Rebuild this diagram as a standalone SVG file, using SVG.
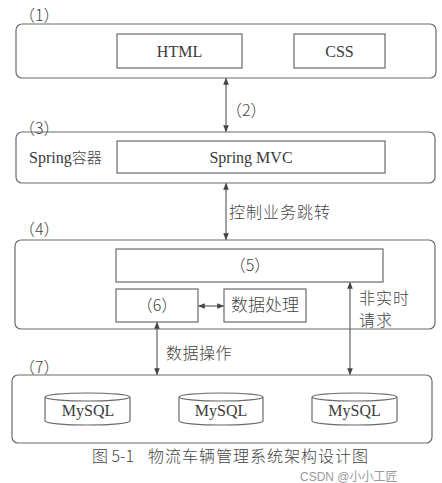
<svg xmlns="http://www.w3.org/2000/svg" width="442" height="483" viewBox="0 0 442 483">
<style>
.frame{fill:none;stroke:#6a6a6a;stroke-width:1.2}
.box{fill:#fff;stroke:#6a6a6a;stroke-width:1.2}
.t{font-family:"Liberation Serif","Noto Sans CJK SC",serif;font-size:16px;fill:#3a3a3a}
.c{font-family:"Noto Sans CJK SC","Liberation Serif",serif;font-size:16px;font-weight:300;fill:#444}
.line{stroke:#555;stroke-width:1.1;fill:none;marker-start:url(#ah);marker-end:url(#ah)}
</style>
<defs>
<marker id="ah" viewBox="0 0 10 10" refX="9" refY="5" markerWidth="7" markerHeight="7" orient="auto-start-reverse" markerUnits="userSpaceOnUse">
<path d="M0,1 L10,5 L0,9 z" fill="#444"/>
</marker>
</defs>
<rect width="442" height="483" fill="#fff"/>

<g id="layer1">
<text class="c" x="19" y="21">（1）</text>
<rect class="frame" x="16" y="24" width="420" height="54" rx="6"/>
</g>
<g id="html">
<rect class="box" x="117" y="34" width="125" height="34"/>
<text class="t" x="179.5" y="57" text-anchor="middle">HTML</text>
</g>
<g id="css">
<rect class="box" x="294" y="34" width="91" height="34"/>
<text class="t" x="339.5" y="57" text-anchor="middle">CSS</text>
</g>

<g id="layer3">
<text class="c" x="19" y="134">（3）</text>
<rect class="frame" x="16" y="132" width="419" height="51" rx="6"/>
<text class="t" x="29" y="163">Spring<tspan class="c" style="font-size:15px">容器</tspan></text>
</g>
<g id="springmvc">
<rect class="box" x="117" y="141" width="268" height="32"/>
<text class="t" x="251" y="163" text-anchor="middle">Spring MVC</text>
</g>

<g id="layer4">
<text class="c" x="19" y="235">（4）</text>
<rect class="frame" x="15" y="240" width="420" height="89" rx="6"/>
</g>
<g id="n5">
<rect class="box" x="116" y="249" width="267" height="33"/>
<text class="c" x="250" y="271" text-anchor="middle">（5）</text>
</g>
<g id="n6">
<rect class="box" x="116" y="289" width="82" height="33"/>
<text class="c" x="157" y="311" text-anchor="middle">（6）</text>
</g>
<g id="dataproc">
<rect class="box" x="224" y="289" width="82" height="33"/>
<text class="c" x="265" y="311" text-anchor="middle" style="font-size:17px">数据处理</text>
</g>

<g id="layer7">
<text class="c" x="19" y="373">（7）</text>
<rect class="frame" x="12" y="375" width="420" height="68" rx="6"/>
</g>
<g id="db1">
<path class="box" d="M45,397 A42.5,4 0 0 1 130,397 L130,421 A42.5,4 0 0 1 45,421 Z M45,397 A42.5,4 0 0 0 130,397"/>
<text class="t" x="88" y="416" text-anchor="middle">MySQL</text>
</g>
<g id="db2">
<path class="box" d="M179,397 A42,4 0 0 1 263,397 L263,421 A42,4 0 0 1 179,421 Z M179,397 A42,4 0 0 0 263,397"/>
<text class="t" x="221" y="416" text-anchor="middle">MySQL</text>
</g>
<g id="db3">
<path class="box" d="M312,397 A42.5,4 0 0 1 397,397 L397,421 A42.5,4 0 0 1 312,421 Z M312,397 A42.5,4 0 0 0 397,397"/>
<text class="t" x="354.5" y="416" text-anchor="middle">MySQL</text>
</g>

<g id="connectors">
<line class="line" x1="226" y1="78.5" x2="226" y2="131.5"/>
<line class="line" x1="226" y1="183.5" x2="226" y2="239.5"/>
<line class="line" x1="198.5" y1="306" x2="223.5" y2="306"/>
<line class="line" x1="157" y1="322.5" x2="157" y2="374.5"/>
<line class="line" x1="350" y1="282.5" x2="350" y2="374.5"/>
<text class="c" x="226" y="116">（2）</text>
<text class="c" x="229" y="218" style="letter-spacing:1px">控制业务跳转</text>
<text class="c" x="166" y="359" style="letter-spacing:0.5px">数据操作</text>
<text class="c" x="359" y="304" style="letter-spacing:1px">非实时</text>
<text class="c" x="359" y="326" style="letter-spacing:1px">请求</text>
</g>

<g id="caption">
<text class="c" x="92" y="462">图 5-1</text>
<text class="c" x="148" y="462" style="letter-spacing:1px">物流车辆管理系统架构设计图</text>
<text x="300" y="481" style="font-family:'Liberation Sans','Noto Sans CJK SC',sans-serif;font-size:12px;fill:#999">CSDN @小小工匠</text>
</g>
</svg>
